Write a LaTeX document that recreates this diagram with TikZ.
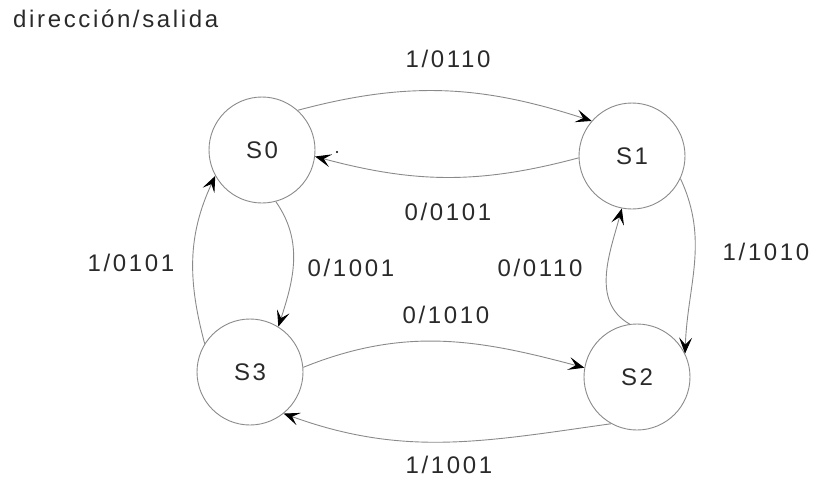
\documentclass[tikz,border=0pt]{standalone}
\usepackage{fontspec}
\setmainfont{Liberation Sans}[LetterSpace=11]
\usetikzlibrary{arrows.meta}
\definecolor{linegray}{HTML}{8A8A8A}
\definecolor{txt}{HTML}{2A2A2A}
\begin{document}
\begin{tikzpicture}[x=1pt,y=-1pt,
  state/.style={circle,draw=linegray,line width=0.9pt,minimum size=106pt,inner sep=0pt,text=txt,font=\fontsize{24}{27}\selectfont},
  lbl/.style={text=txt,font=\fontsize{24}{27}\selectfont,inner sep=0pt},
  tr/.style={draw=linegray,line width=0.9pt,-{Stealth[black,length=16pt,width=13pt,inset=7pt]}}]
\useasboundingbox (0,0) rectangle (813,479);
\node[lbl,anchor=west] (title) at (13,19) {dirección/salida};
\node[state] (S0) at (262,150) {S0};
\node[state] (S1) at (632,156) {S1};
\node[state] (S3) at (250,372) {S3};
\node[state] (S2) at (637,377) {S2};
\draw[tr] (S0.48) to[out=15,in=162] (S1.139);
\draw[tr] (S1.182) to[out=195,in=-15] (S0.-7);
\draw[tr] (S1.-25) to[out=-65,in=88] (S2.26);
\draw[tr] (S2.98) to[out=150,in=-105] (S1.259);
\draw[tr] (S0.-75) to[out=-55,in=72] (S3.58);
\draw[tr] (S3.148) to[out=105,in=-115] (S0.209);
\draw[tr] (S3.5) to[out=22,in=165] (S2.170);
\draw[tr] (S2.241) to[out=188,in=-20] (S3.309);
\fill (337,152) circle (1.1pt);
\node[lbl] (l01) at (448,59) {1/0110};
\node[lbl] (l10) at (448,212) {0/0101};
\node[lbl] (l30) at (131,263) {1/0101};
\node[lbl] (l03) at (351,268) {0/1001};
\node[lbl] (l21) at (540,268) {0/0110};
\node[lbl] (l12) at (766,252) {1/1010};
\node[lbl] (l32) at (446,315) {0/1010};
\node[lbl] (l23) at (449,465) {1/1001};
\end{tikzpicture}
\end{document}
